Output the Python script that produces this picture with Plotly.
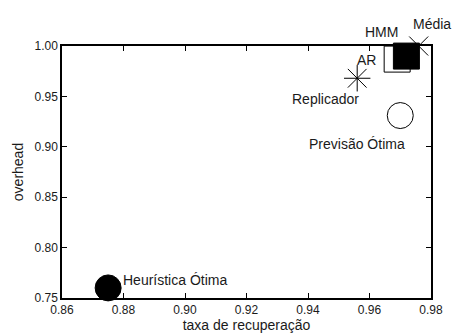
import plotly.graph_objects as go

# data
names = ["Heurística Ótima", "Previsão Ótima", "Replicador", "AR", "HMM", "Média"]
taxa = [0.875, 0.970, 0.956, 0.969, 0.972, 0.976]
overhead = [0.760, 0.931, 0.968, 0.987, 0.990, 1.000]
x_ticks = [0.86, 0.88, 0.90, 0.92, 0.94, 0.96, 0.98]
y_ticks = [0.75, 0.80, 0.85, 0.90, 0.95, 1.00]

# styles
symbols = ["circle", "circle-open", "asterisk-open", "square-open", "square", "x-thin-open"]
sizes = [26, 26, 22, 26, 26, 19]
# label placement (pixel offsets from marker, anchor)
lab_dx = [13, 7, 4, -19, -6, -8]
lab_dy = [8, -28, -21, -1, 24, 22]
lab_anchor = ["left", "right", "right", "right", "right", "left"]

FONT = "Liberation Sans, Arial, sans-serif"
TXT = "#1a1a1a"

fig = go.Figure()
for i in range(len(names)):
    fig.add_trace(go.Scatter(
        x=[taxa[i]], y=[overhead[i]], mode="markers", name=names[i],
        cliponaxis=False,
        marker=dict(symbol=symbols[i], size=sizes[i], color="black",
                    line=dict(color="black", width=1)),
    ))
    fig.add_annotation(x=taxa[i], y=overhead[i], text=names[i], showarrow=False,
                       xanchor=lab_anchor[i], yanchor="middle",
                       xshift=lab_dx[i], yshift=lab_dy[i],
                       font=dict(family=FONT, size=14, color=TXT))

axis_common = dict(showline=True, linecolor="black", linewidth=1.5, mirror="ticks",
                   ticks="inside", ticklen=5, tickwidth=1, tickcolor="black",
                   showgrid=False, zeroline=False, automargin=False,
                   tickfont=dict(family=FONT, size=12, color=TXT))

fig.update_xaxes(range=[0.86, 0.98], tickvals=x_ticks,
                 ticktext=[f"{v:.2f}" for v in x_ticks],
                 title=dict(text="taxa de recuperação", font=dict(family=FONT, size=14, color=TXT), standoff=2),
                 **axis_common)
fig.update_yaxes(range=[0.75, 1.00], tickvals=y_ticks,
                 ticktext=[f"{v:.2f}" for v in y_ticks],
                 title=dict(text="overhead", font=dict(family=FONT, size=14, color=TXT), standoff=8),
                 **axis_common)

fig.update_layout(width=453, height=334, showlegend=False,
                  margin=dict(l=62, r=22, t=46, b=36),
                  plot_bgcolor="white", paper_bgcolor="white")

fig.write_html("out.html")
